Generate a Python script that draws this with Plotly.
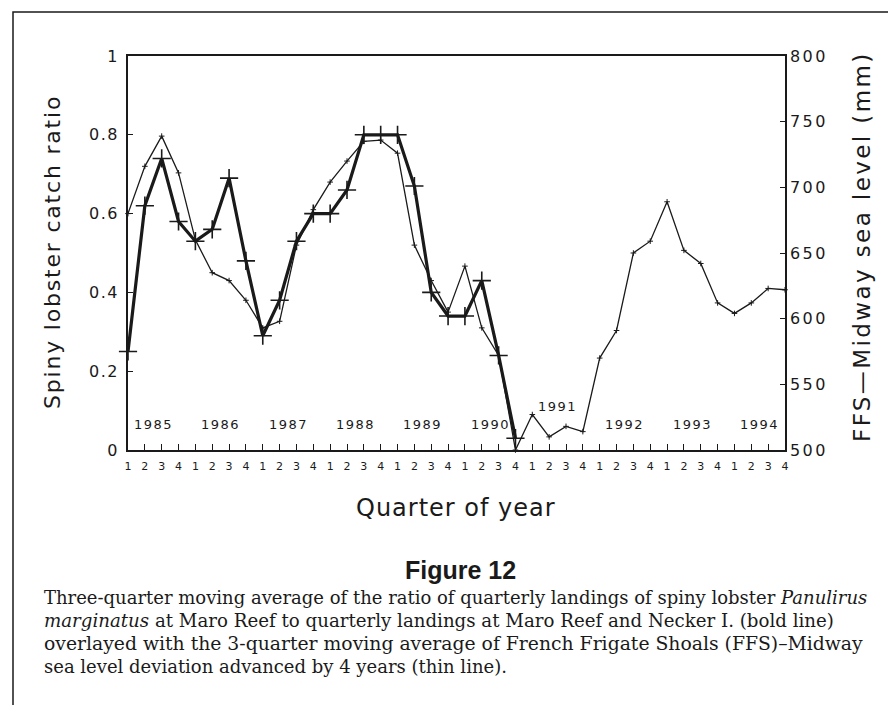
import plotly.graph_objects as go

# ---- data ----
quarter_labels = ["1", "2", "3", "4"] * 10
years = ["1985", "1986", "1987", "1988", "1989", "1990", "1991", "1992", "1993", "1994"]
year_label_level = [0.066, 0.066, 0.066, 0.066, 0.066, 0.066, 0.11, 0.066, 0.066, 0.066]

catch_ratio = [0.25, 0.62, 0.74, 0.58, 0.53, 0.56, 0.69, 0.48,
               0.29, 0.38, 0.53, 0.60, 0.60, 0.66, 0.80, 0.80,
               0.80, 0.67, 0.40, 0.34, 0.34, 0.43, 0.24, 0.03]

sea_level_mm = [680, 716, 739, 711, 660, 635, 629, 614,
                593, 598, 656, 683, 704, 720, 735, 736,
                726, 656, 629, 605, 640, 593, 572, 500,
                527, 510, 518, 514, 570, 591, 650, 659,
                689, 652, 642, 612, 604, 612, 623, 622]

left_ticks = [0, 0.2, 0.4, 0.6, 0.8, 1]
left_ticktext = ["0", "0.2", "0.4", "0.6", "0.8", "1"]
right_ticks = [500, 550, 600, 650, 700, 750, 800]
right_ticktext = ["500", "550", "600", "650", "700", "750", "800"]

caption_lines = [
    "Three-quarter moving average of the ratio of quarterly landings of spiny lobster <i>Panulirus</i>",
    "<i>marginatus</i> at Maro Reef to quarterly landings at Maro Reef and Necker I. (bold line)",
    "overlayed with the 3-quarter moving average of French Frigate Shoals (FFS)–Midway",
    "sea level deviation advanced by 4 years (thin line).",
]
caption_sizes = [18.0, 18.2, 18.8, 18.0]

# ---- figure ----
OFF = 8                      # page body margin of the html
W, H = 896 - 2 * OFF, 713 - 2 * OFF
L, R, T, B = 128, 785, 56, 450   # plot area in window pixels
ink = "#1a1a1a"
sans = "DejaVu Sans"
serif = "DejaVu Serif"


def spaced(text, px_):
    return '<span style="letter-spacing:%.1fpx">%s</span>' % (px_, text)


fig = go.Figure()

fig.add_trace(go.Scatter(
    x=list(range(len(sea_level_mm))), y=sea_level_mm, yaxis="y2",
    mode="lines+markers",
    line=dict(color=ink, width=1.3),
    marker=dict(symbol="cross-thin", size=4, line=dict(color=ink, width=1)),
    cliponaxis=False, showlegend=False,
))
fig.add_trace(go.Scatter(
    x=list(range(len(catch_ratio))), y=catch_ratio,
    mode="lines+markers",
    line=dict(color=ink, width=3.2),
    marker=dict(symbol="cross-thin", size=13, line=dict(color=ink, width=1.6)),
    cliponaxis=False, showlegend=False,
))


def px(xp):
    return (xp - L) / (R - L)


def py(yp):
    return (B - yp) / (B - T)


ann = []
for k, (yr, lvl) in enumerate(zip(years, year_label_level)):
    ann.append(dict(x=4 * k + 1.5, y=lvl, xref="x", yref="y", text=spaced(yr, 1.5),
                    showarrow=False, xanchor="center", yanchor="middle",
                    font=dict(family=sans, size=13, color=ink)))

ann.append(dict(x=px(52), y=py(252), xref="paper", yref="paper",
                text=spaced("Spiny lobster catch ratio", 1.8),
                textangle=-90, showarrow=False, xanchor="center", yanchor="middle",
                font=dict(family=sans, size=22, color=ink)))
ann.append(dict(x=px(862), y=py(247), xref="paper", yref="paper",
                text=spaced("FFS—Midway sea level (mm)", 2.4),
                textangle=-90, showarrow=False, xanchor="center", yanchor="middle",
                font=dict(family=sans, size=23, color=ink)))
ann.append(dict(x=px(456), y=py(508), xref="paper", yref="paper",
                text=spaced("Quarter of year", 1.0),
                showarrow=False, xanchor="center", yanchor="middle",
                font=dict(family=sans, size=24, color=ink)))
ann.append(dict(x=px(460), y=py(570), xref="paper", yref="paper", text="<b>Figure 12</b>",
                showarrow=False, xanchor="center", yanchor="middle",
                font=dict(family="Liberation Sans", size=25, color=ink)))
for j, (line, sz) in enumerate(zip(caption_lines, caption_sizes)):
    ann.append(dict(x=px(42), y=py(597 + 23.3 * j), xref="paper", yref="paper", text=line,
                    xanchor="left", yanchor="middle", showarrow=False,
                    font=dict(family=serif, size=sz, color=ink)))

fig.update_layout(
    width=W, height=H,
    margin=dict(l=L - OFF, r=(W + OFF) - R, t=T - OFF, b=(H + OFF) - B),
    paper_bgcolor="white", plot_bgcolor="white",
    xaxis=dict(range=[0, 39], tickvals=list(range(40)), ticktext=quarter_labels,
               ticks="inside", ticklen=6, tickcolor=ink, showline=True, linecolor=ink,
               linewidth=1.5, mirror=True, showgrid=False, zeroline=False,
               ticklabelstandoff=5,
               tickfont=dict(family=sans, size=11, color=ink)),
    yaxis=dict(range=[0, 1], tickvals=left_ticks,
               ticktext=[spaced(t, 1.5) for t in left_ticktext],
               ticks="inside", ticklen=5, tickcolor=ink, showline=True, linecolor=ink,
               linewidth=1.5, showgrid=False, zeroline=False,
               ticklabelstandoff=4,
               tickfont=dict(family=sans, size=16, color=ink)),
    yaxis2=dict(range=[500, 800], tickvals=right_ticks,
                ticktext=[spaced(t, 2.5) for t in right_ticktext],
                overlaying="y", side="right",
                ticks="inside", ticklen=5, tickcolor=ink, showline=True, linecolor=ink,
                linewidth=1.5, showgrid=False, zeroline=False,
                tickfont=dict(family=sans, size=16, color=ink)),
    annotations=ann,
    shapes=[dict(type="rect", xref="paper", yref="paper",
                 x0=px(13), x1=px(893), y0=py(730), y1=py(12),
                 line=dict(color=ink, width=1.5), fillcolor="rgba(0,0,0,0)", layer="below")],
)

fig.write_html("out.html")
